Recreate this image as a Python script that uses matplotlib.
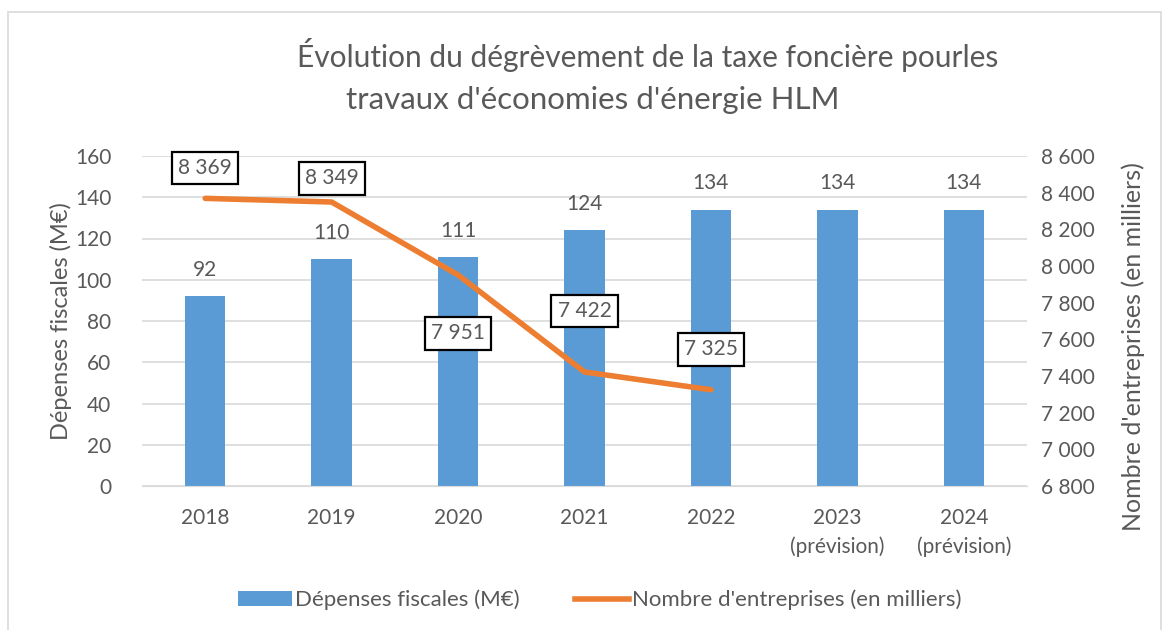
import matplotlib
matplotlib.use("Agg")
import matplotlib.pyplot as plt
from matplotlib.patches import Rectangle
from matplotlib.lines import Line2D
from matplotlib.patches import Patch

categories = ["2018", "2019", "2020", "2021", "2022", "2023\n(prévision)", "2024\n(prévision)"]
depenses = [92, 110, 111, 124, 134, 134, 134]
entreprises = [8369, 8349, 7951, 7422, 7325]
left_ticks = [0, 20, 40, 60, 80, 100, 120, 140, 160]
right_ticks = [6800, 7000, 7200, 7400, 7600, 7800, 8000, 8200, 8400, 8600]

plt.rcParams['font.family'] = ['Lato', 'DejaVu Sans']
TXT = "#595959"
BLUE = "#5B9BD5"
ORANGE = "#ED7D31"
GRID = "#D9D9D9"

fig = plt.figure(figsize=(11.69, 6.30), dpi=100)
W, H = 1169, 630
ax = fig.add_axes([142 / W, 1 - 486 / H, (1027 - 142) / W, (486 - 156) / H])
ax2 = ax.twinx()

x = list(range(len(categories)))
ax.bar(x, depenses, width=0.32, color=BLUE, zorder=2)
for xi, v in zip(x, depenses):
    ax.annotate(str(v), (xi, v), xytext=(0, 19), textcoords="offset points",
                ha="center", va="center", fontsize=15, color=TXT)

ax.set_xlim(-0.5, len(categories) - 0.5)
ax.set_ylim(0, 160)
ax.set_yticks(left_ticks)
ax.set_xticks(x)
ax.set_xticklabels(categories, fontsize=15, color=TXT, linespacing=1.5)
ax.tick_params(axis="y", labelsize=15, labelcolor=TXT, length=0, pad=22)
ax.tick_params(axis="x", length=0, pad=16)
ax.grid(axis="y", color=GRID, linewidth=1.2, zorder=0)
ax.set_axisbelow(True)
for s in ax.spines.values():
    s.set_visible(False)
ax.spines["bottom"].set_visible(True)
ax.spines["bottom"].set_color(GRID)
ax.set_ylabel("Dépenses fiscales (M€)", fontsize=17, color=TXT)
ax.yaxis.set_label_coords((72 - 142) / 885, 0.5)

ax2.plot(x[:len(entreprises)], entreprises, color=ORANGE, linewidth=4, solid_capstyle="round", zorder=3)
ax2.set_ylim(6800, 8600)
ax2.set_yticks(right_ticks)
ax2.set_yticklabels([f"{t:,}".replace(",", " ") for t in right_ticks])
ax2.tick_params(axis="y", labelsize=15, labelcolor=TXT, length=0, pad=10)
for s in ax2.spines.values():
    s.set_visible(False)
ax2.set_ylabel("Nombre d'entreprises (en milliers)", fontsize=18, color=TXT)
ax2.yaxis.set_label_coords((1121 - 142) / 885, (486 - 347) / 330)

offsets = [(0, 22), (0, 17), (0, -42), (0, 44), (0, 29)]
for xi, v, off in zip(x, entreprises, offsets):
    ax2.annotate(f"{v:,}".replace(",", " "), (xi, v), xytext=off, textcoords="offset points",
                 ha="center", va="center", fontsize=15, color=TXT,
                 bbox=dict(boxstyle="square,pad=0.3", fc="white", ec="black", lw=1.6), zorder=5)

fig.text(648 / W, 1 - 55 / H, "Évolution du dégrèvement de la taxe foncière pourles", ha="center", va="center",
         fontsize=21.5, color=TXT)
fig.text(593 / W, 1 - 100 / H, "travaux d'économies d'énergie HLM", ha="center", va="center",
         fontsize=22.5, color=TXT)

handles = [Patch(facecolor=BLUE, label="Dépenses fiscales (M€)"),
           Line2D([0], [0], color=ORANGE, lw=4, label="Nombre d'entreprises (en milliers)")]
fig.legend(handles=handles, loc="center", bbox_to_anchor=(600 / W, 1 - 600 / H), ncol=2, frameon=False,
           fontsize=16, labelcolor=TXT, handlelength=2.4, handletextpad=0.15, columnspacing=2.5)

fig.add_artist(Rectangle((8 / W, -0.05), (1161 - 8) / W, 1 - 12 / H + 0.05, transform=fig.transFigure,
                         fill=False, ec=GRID, lw=1.2))

fig.savefig("out.png", dpi=100)
